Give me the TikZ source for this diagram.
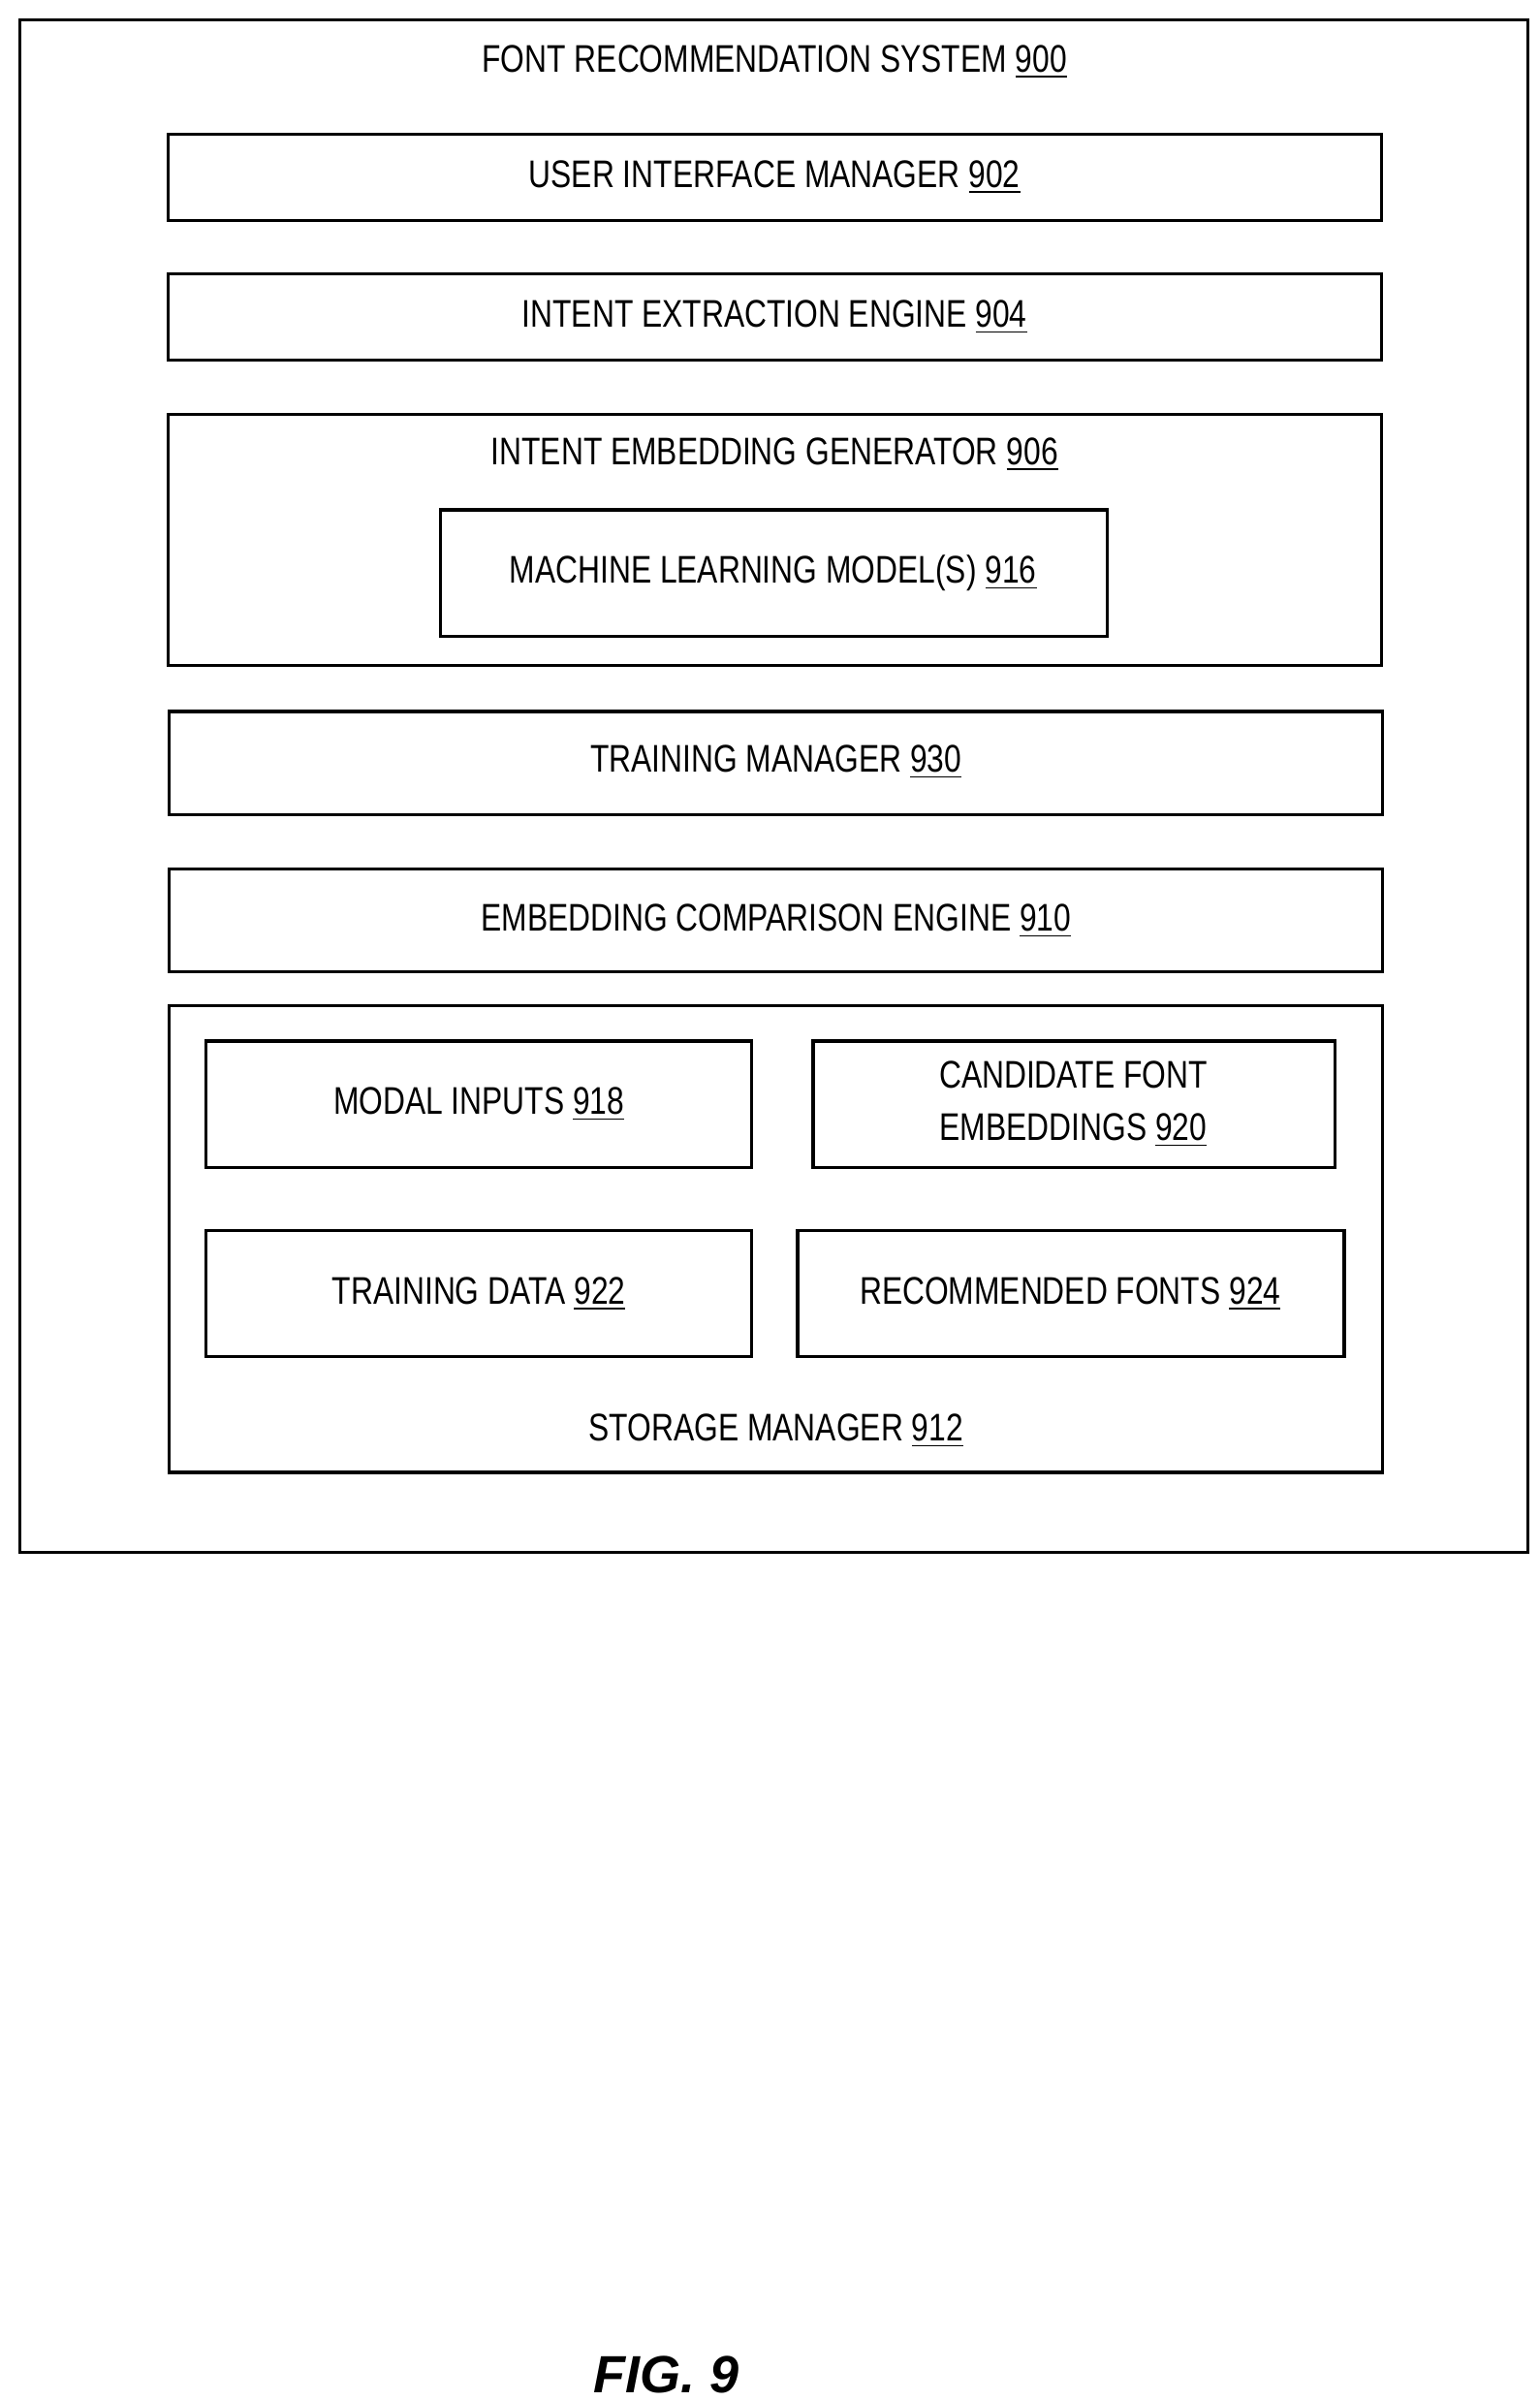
\documentclass[tikz,border=0pt]{standalone}
\usepackage{fontspec}
\setmainfont{Liberation Sans}[FakeStretch=0.8]
\newfontfamily\figfont{Liberation Sans}
\begin{document}
\begin{tikzpicture}[x=0.5pt,y=-0.5pt,
  bx/.style={draw,line width=1pt},
  lb/.style={font=\fontsize{12.5}{15}\selectfont,align=center,inner sep=0pt}]
\useasboundingbox (0,0) rectangle (1000,1559);
\newcommand{\ul}[1]{\underline{#1}}
\draw[bx] (13,13) rectangle (992,1008);
\node[lb] (t900) at (503,40) {FONT RECOMMENDATION SYSTEM \ul{900}};
\draw[bx] (109,87) rectangle (897,143);
\node[lb] (n902) at (503,115) {USER INTERFACE MANAGER \ul{902}};
\draw[bx] (109,178) rectangle (897,234);
\node[lb] (n904) at (503,206) {INTENT EXTRACTION ENGINE \ul{904}};
\draw[bx] (109,269) rectangle (897,432);
\node[lb] (n906) at (503,295) {INTENT EMBEDDING GENERATOR \ul{906}};
\draw[bx] (286,331) rectangle (719,413);
\node[lb] (n916) at (502,372) {MACHINE LEARNING MODEL(S) \ul{916}};
\draw[bx] (110,462) rectangle (898,529);
\node[lb] (n930) at (504,495) {TRAINING MANAGER \ul{930}};
\draw[bx] (110,564) rectangle (898,631);
\node[lb] (n910) at (504,598) {EMBEDDING COMPARISON ENGINE \ul{910}};
\draw[bx] (110,653) rectangle (898,956);
\node[lb] (n912) at (504,929) {STORAGE MANAGER \ul{912}};
\draw[bx] (134,676) rectangle (488,758);
\node[lb] (n918) at (311,717) {MODAL INPUTS \ul{918}};
\draw[bx] (528,676) rectangle (867,758);
\node[lb] (n920) at (697,717) {CANDIDATE FONT\\[2pt]EMBEDDINGS \ul{920}};
\draw[bx] (134,799) rectangle (488,881);
\node[lb] (n922) at (311,840) {TRAINING DATA \ul{922}};
\draw[bx] (518,799) rectangle (873,881);
\node[lb] (n924) at (695,840) {RECOMMENDED FONTS \ul{924}};
\node[inner sep=0pt,font=\figfont\fontsize{17}{20}\selectfont\bfseries\itshape] (fig) at (433,1542) {FIG. 9};
\end{tikzpicture}
\end{document}
